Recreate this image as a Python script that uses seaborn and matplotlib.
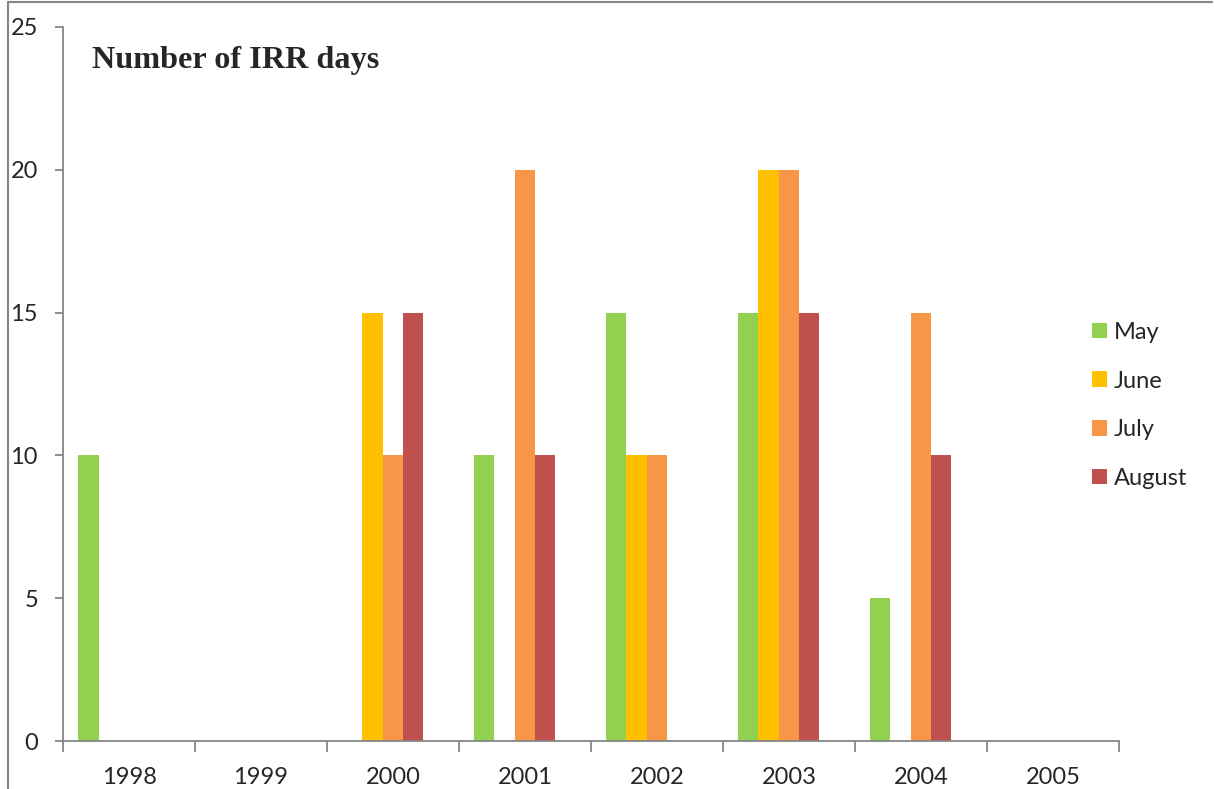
import pandas as pd
import matplotlib.pyplot as plt
import seaborn as sns
from matplotlib.patches import Patch
from matplotlib.lines import Line2D

# chart values
years = ['1998', '1999', '2000', '2001', '2002', '2003', '2004', '2005']
may = [10, 0, 0, 10, 15, 15, 5, 0]
june = [0, 0, 15, 0, 10, 20, 0, 0]
july = [0, 0, 10, 20, 10, 20, 15, 0]
august = [0, 0, 15, 10, 0, 15, 10, 0]
# the source sheet has a fifth, empty series which shifts the clusters left
empty = [0, 0, 0, 0, 0, 0, 0, 0]

months = ['May', 'June', 'July', 'August', ' ']
colors = ['#92D050', '#FFC000', '#F79646', '#C0504D', '#FFFFFF']

rows = []
for m, vals in zip(months, [may, june, july, august, empty]):
    for y, v in zip(years, vals):
        rows.append({'Year': y, 'Month': m, 'Days': v})
df = pd.DataFrame(rows)

sns.set_style('white')
plt.rcParams['font.family'] = ['Lato', 'DejaVu Sans']

fig = plt.figure(figsize=(12.14, 7.89), dpi=100)
ax = fig.add_axes([0.0519, 0.0608, 0.8698, 0.905])

sns.barplot(data=df, x='Year', y='Days', hue='Month', order=years,
            hue_order=months, palette=colors, width=0.77, linewidth=0,
            saturation=1, errorbar=None, legend=False, ax=ax)

ax.set_xlim(-0.5, len(years) - 0.5)
ax.set_ylim(0, 25)
ax.set_yticks([0, 5, 10, 15, 20, 25])
ax.set_xlabel('')
ax.set_ylabel('')

grey = '#868686'
for s in ['top', 'right']:
    ax.spines[s].set_visible(False)
for s in ['left', 'bottom']:
    ax.spines[s].set_color(grey)
    ax.spines[s].set_linewidth(1.3)

ax.tick_params(axis='y', length=6, width=1.3, color=grey, pad=12, labelsize=17, left=True)
ax.tick_params(axis='x', which='major', length=0, pad=19, labelsize=17)
ax.set_xticks([i - 0.5 for i in range(len(years) + 1)], minor=True)
ax.tick_params(axis='x', which='minor', length=8, width=1.3, color=grey, bottom=True)

ax.text(0.027, 0.9525, 'Number of IRR days', transform=ax.transAxes,
        fontsize=23.2, fontweight='bold', family='Liberation Serif', va='center')

handles = [Patch(facecolor=c, edgecolor='none') for c in colors[:4]]
fig.legend(handles, months[:4], loc='upper left', bbox_to_anchor=(0.8915, 0.604),
           frameon=False, fontsize=17, handlelength=0.65, handleheight=0.65,
           handletextpad=0.3, labelspacing=1.17, borderaxespad=0)

# outer chart frame (partly cropped in the reference)
fig.add_artist(Line2D([0.0066, 0.9985], [0.9975, 0.9975], color=grey, lw=1.5))
fig.add_artist(Line2D([0.0066, 0.0066], [0.0, 0.9975], color=grey, lw=1.5))

fig.savefig('out.png', dpi=100)
